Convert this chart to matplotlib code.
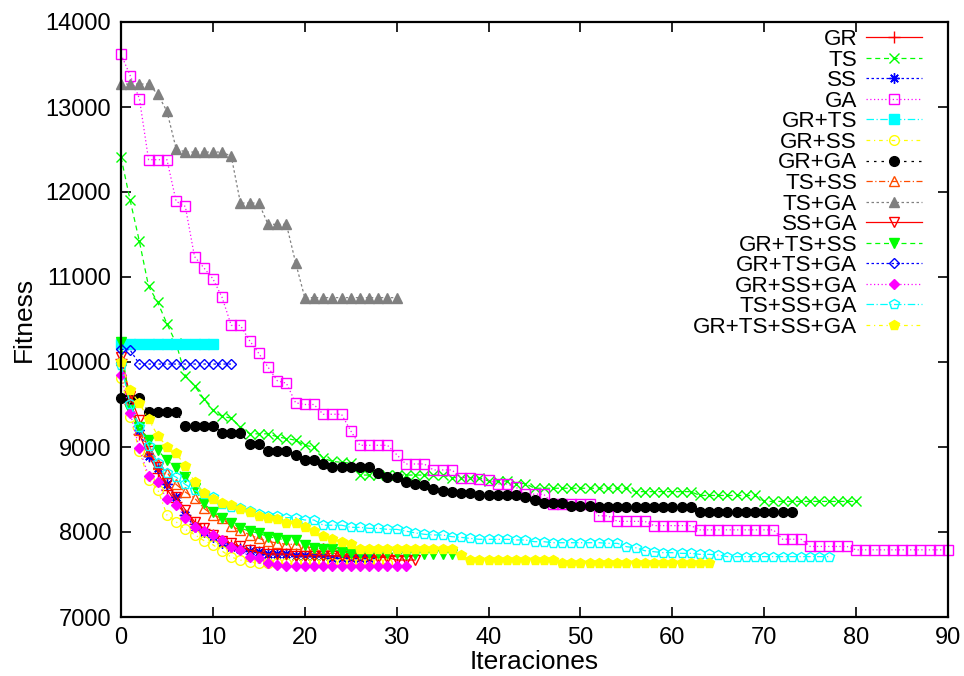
import matplotlib
matplotlib.use("Agg")
import matplotlib.pyplot as plt

# ---------------- data (y values, x = iteration index 0..n-1) ----------------
labels = ["GR", "TS", "SS", "GA", "GR+TS", "GR+SS", "GR+GA", "TS+SS", "TS+GA",
          "SS+GA", "GR+TS+SS", "GR+TS+GA", "GR+SS+GA", "TS+SS+GA", "GR+TS+SS+GA"]

GR = [10040, 9500, 9150, 8900, 8700, 8500, 8350, 8200, 8100, 8030, 7960, 7900,
      7850, 7810, 7790, 7770, 7750, 7740, 7740, 7740, 7740, 7720, 7720, 7720,
      7720, 7720, 7720, 7720, 7720, 7720, 7720, 7720]

TS = [12410, 11900, 11420, 10890, 10700, 10450, 10220, 9840, 9720, 9570, 9430,
      9360, 9340, 9235, 9155, 9155, 9155, 9120, 9100, 9080, 9020, 9000, 8870,
      8830, 8820, 8810, 8670, 8670, 8670, 8670, 8670, 8670, 8670, 8670, 8670,
      8670, 8640, 8640, 8640, 8640, 8600, 8600, 8600, 8570, 8570, 8515, 8515,
      8515, 8515, 8515, 8515, 8515, 8515, 8515, 8515, 8515, 8475, 8475, 8475,
      8475, 8475, 8475, 8475, 8430, 8430, 8430, 8430, 8430, 8430, 8430, 8360,
      8360, 8360, 8360, 8360, 8360, 8360, 8360, 8360, 8360, 8360]

SS = [10000, 9550, 9200, 8900, 8750, 8560, 8416, 8200, 8063, 8004, 7945, 7867,
      7827, 7800, 7780, 7760, 7740, 7740, 7740, 7720, 7720, 7720, 7720, 7700,
      7700, 7700, 7700, 7700]

GA = [13620, 13370, 13100, 12380, 12380, 12380, 11890, 11830, 11240, 11110,
      10980, 10760, 10430, 10430, 10250, 10100, 9940, 9780, 9750, 9520, 9500,
      9500, 9385, 9385, 9385, 9190, 9020, 9020, 9020, 9020, 8910, 8800, 8800,
      8800, 8730, 8730, 8730, 8640, 8630, 8620, 8610, 8565, 8565, 8525, 8445,
      8445, 8445, 8330, 8330, 8330, 8330, 8330, 8190, 8190, 8125, 8125, 8125,
      8125, 8075, 8075, 8075, 8075, 8075, 8025, 8025, 8025, 8025, 8025, 8025,
      8025, 8025, 8025, 7915, 7915, 7915, 7830, 7830, 7830, 7830, 7830, 7790,
      7790, 7790, 7790, 7790, 7790, 7790, 7790, 7790, 7790, 7790]

GR_TS = [10210, 10210, 10210, 10210, 10210, 10210, 10210, 10210, 10210, 10210,
         10210]

GR_SS = [9810, 9357, 8950, 8615, 8500, 8200, 8120, 8030, 7970, 7900, 7850, 7775,
         7705, 7670, 7650, 7630, 7630, 7630, 7630, 7630, 7630, 7630, 7630, 7630,
         7630, 7630, 7630, 7630, 7630, 7630]

GR_GA = [9580, 9580, 9580, 9410, 9410, 9410, 9410, 9250, 9250, 9250, 9250, 9170,
         9170, 9170, 9030, 9030, 8955, 8955, 8955, 8905, 8850, 8850, 8805, 8760,
         8760, 8760, 8760, 8760, 8700, 8645, 8645, 8590, 8570, 8555, 8505, 8485,
         8470, 8460, 8460, 8430, 8430, 8430, 8430, 8430, 8410, 8375, 8345, 8345,
         8345, 8310, 8310, 8310, 8290, 8290, 8290, 8290, 8290, 8290, 8290, 8290,
         8290, 8290, 8290, 8240, 8240, 8240, 8240, 8240, 8240, 8240, 8240, 8240,
         8240, 8240]

TS_SS = [10020, 9550, 9200, 8950, 8800, 8700, 8560, 8470, 8400, 8280, 8200, 8160,
         8065, 8025, 7965, 7925, 7890, 7870, 7855, 7855, 7830, 7810, 7810, 7810,
         7800, 7800]

TS_GA = [13270, 13270, 13270, 13270, 13150, 12950, 12510, 12470, 12470, 12470,
         12470, 12470, 12420, 11870, 11870, 11870, 11620, 11620, 11620, 11170,
         10757, 10757, 10757, 10757, 10757, 10757, 10757, 10757, 10757, 10757,
         10757]

SS_GA = [10060, 9600, 9320, 8950, 8760, 8573, 8416, 8260, 8122, 8043, 7965, 7898,
         7867, 7830, 7788, 7760, 7740, 7740, 7740, 7720, 7720, 7720, 7720, 7720,
         7720, 7700, 7700, 7700, 7700, 7700, 7670, 7670, 7670]

GR_TS_SS = [10240, 9430, 9240, 9082, 8960, 8845, 8750, 8651, 8514, 8337, 8239,
            8165, 8110, 8043, 8012, 7984, 7945, 7925, 7906, 7906, 7847, 7815,
            7800, 7800, 7770, 7750, 7750, 7750, 7750, 7750, 7750, 7740, 7740,
            7740, 7740, 7740, 7740]

GR_TS_GA = [10150, 10140, 9976, 9976, 9976, 9976, 9976, 9976, 9976, 9976, 9976,
            9976, 9976]

GR_SS_GA = [9845, 9400, 8984, 8660, 8585, 8384, 8318, 8165, 8063, 8008, 7970,
            7910, 7825, 7788, 7710, 7690, 7631, 7612, 7604, 7604, 7604, 7604,
            7604, 7604, 7604, 7604, 7604, 7604, 7604, 7604, 7604, 7604]

TS_SS_GA = [9965, 9500, 9240, 9010, 8815, 8700, 8645, 8560, 8490, 8445, 8416,
            8330, 8300, 8278, 8247, 8215, 8192, 8192, 8169, 8169, 8141, 8141,
            8080, 8080, 8080, 8055, 8055, 8043, 8043, 8031, 8031, 8010, 7990,
            7973, 7965, 7965, 7945, 7937, 7925, 7914, 7914, 7914, 7914, 7906,
            7906, 7886, 7886, 7874, 7874, 7874, 7874, 7874, 7874, 7867, 7867,
            7827, 7815, 7780, 7768, 7757, 7757, 7749, 7749, 7737, 7737, 7729,
            7710, 7710, 7710, 7710, 7710, 7710, 7710, 7710, 7710, 7710, 7710,
            7710]

GR_TS_SS_GA = [10000, 9665, 9518, 9325, 9135, 9004, 8930, 8772, 8592, 8463, 8390,
               8337, 8322, 8270, 8230, 8192, 8161, 8153, 8102, 8102, 8055, 8010,
               7957, 7918, 7886, 7855, 7795, 7795, 7795, 7795, 7795, 7795, 7795,
               7795, 7795, 7795, 7795, 7725, 7675, 7675, 7675, 7675, 7675, 7675,
               7675, 7675, 7675, 7675, 7632, 7632, 7632, 7632, 7632, 7632, 7632,
               7632, 7632, 7632, 7632, 7632, 7632, 7632, 7632, 7632, 7632]

series = [GR, TS, SS, GA, GR_TS, GR_SS, GR_GA, TS_SS, TS_GA, SS_GA, GR_TS_SS,
          GR_TS_GA, GR_SS_GA, TS_SS_GA, GR_TS_SS_GA]

x_ticks = [0, 10, 20, 30, 40, 50, 60, 70, 80, 90]
y_ticks = [7000, 8000, 9000, 10000, 11000, 12000, 13000, 14000]

# ---------------- styles (gnuplot postscript look) ----------------
ORANGE = (1.0, 0.3, 0.0)
GRAY = (0.5, 0.5, 0.5)
colors = ["#ff0000", "#00ff00", "#0000ff", "#ff00ff", "#00ffff", "#ffff00", "#000000",
          ORANGE, GRAY, "#ff0000", "#00ff00", "#0000ff", "#ff00ff", "#00ffff", "#ffff00"]
dashes = [None, (4, 3), (2, 2), (1, 2), (6, 2, 1, 2), (3, 3, 1, 3), (2, 4),
          (5, 2, 1, 2), (2, 2), None, (4, 3), (2, 2), (1, 2), (6, 2, 1, 2), (3, 3, 1, 3)]
markers = ["+", "x", (8, 2, 0), "s", "s", "o", "o", "^", "^", "v", "v", "D", "D", "p", "p"]
filled = [True, True, True, False, True, False, True, False, True, False, True,
          False, True, False, True]
msizes = [8.5, 7, 7.5, 6.8, 6.8, 7, 7, 7.2, 7.2, 7.2, 7.2, 5, 5, 7.5, 7.5]

plt.rcParams["font.family"] = ["Liberation Sans", "DejaVu Sans"]

fig = plt.figure(figsize=(9.64, 6.76), dpi=100)
ax = fig.add_axes([121 / 964, 59 / 676, 827 / 964, 595 / 676])

handles = []
for i, ys in enumerate(series):
    xs = list(range(len(ys)))
    c = colors[i]
    kw = dict(color=c, lw=0.9, marker=markers[i], ms=msizes[i], mew=1.0,
              mec=c, mfc=(c if filled[i] else "none"), clip_on=False, label=labels[i])
    ln, = ax.plot(xs, ys, **kw)
    if dashes[i] is not None:
        ln.set_dashes(dashes[i])
    handles.append(ln)

ax.set_xlim(0, 90)
ax.set_ylim(7000, 14000)
ax.set_xticks(x_ticks)
ax.set_yticks(y_ticks)
ax.tick_params(direction="in", length=7, width=1.2, top=True, right=True,
               labelsize=17, pad=7)
for sp in ax.spines.values():
    sp.set_linewidth(1.6)
ax.set_xlabel("Iteraciones", fontsize=19, labelpad=1)
ax.set_ylabel("Fitness", fontsize=19, labelpad=7)

leg = ax.legend(handles=handles, loc="upper right", bbox_to_anchor=(0.969, 0.988),
                markerfirst=False, frameon=False, fontsize=16.2, handlelength=2.5,
                handletextpad=0.4, labelspacing=-0.02, borderpad=0, borderaxespad=0,
                alignment="right")

fig.savefig("out.png", dpi=100)
